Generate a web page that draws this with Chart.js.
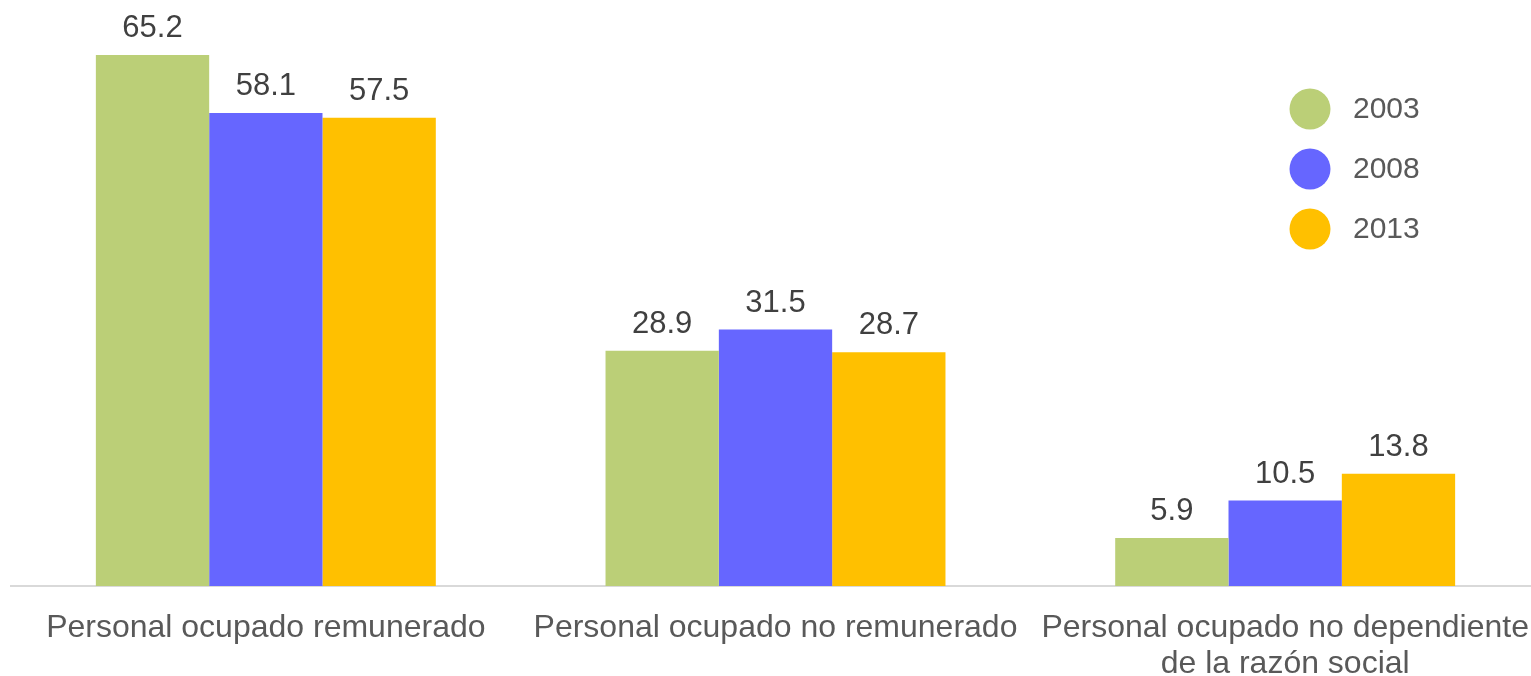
<!DOCTYPE html>
<html>
<head>
<meta charset="utf-8">
<script src="https://cdn.jsdelivr.net/npm/chart.js@4.4.1/dist/chart.umd.min.js"></script>
<style>
    html, body { margin: 0; padding: 0; background: #ffffff; overflow: hidden; }
    #wrap { width: 1540px; height: 676px; }
</style>
</head>
<body>
<div id="wrap"><canvas id="myChart"></canvas></div>
<script>
const categories = [
    'Personal ocupado remunerado',
    'Personal ocupado no remunerado',
    ['Personal ocupado no dependiente', 'de la razón social']
];
const years = ['2003', '2008', '2013'];
const values_2003 = [65.2, 28.9, 5.9];
const values_2008 = [58.1, 31.5, 10.5];
const values_2013 = [57.5, 28.7, 13.8];
const colors = ['#bbcf77', '#6666ff', '#ffc000'];

const font_family = '"Liberation Sans", Arial, sans-serif';

// value above each bar
const valueLabels = {
    id: 'valueLabels',
    afterDatasetsDraw(chart) {
        const ctx = chart.ctx;
        ctx.save();
        ctx.font = '31px ' + font_family;
        ctx.fillStyle = '#404040';
        ctx.textAlign = 'center';
        ctx.textBaseline = 'alphabetic';
        chart.data.datasets.forEach((ds, i) => {
            chart.getDatasetMeta(i).data.forEach((bar, j) => {
                ctx.fillText(ds.data[j].toFixed(1), bar.x, bar.y - 18);
            });
        });
        ctx.restore();
    }
};

// circle legend in the upper right
const circleLegend = {
    id: 'circleLegend',
    afterDraw(chart) {
        const ctx = chart.ctx;
        ctx.save();
        ctx.font = '30px ' + font_family;
        ctx.textAlign = 'left';
        ctx.textBaseline = 'middle';
        chart.data.datasets.forEach((ds, i) => {
            let y = 109 + i * 60;
            ctx.beginPath();
            ctx.arc(1310, y, 20.5, 0, Math.PI * 2);
            ctx.fillStyle = ds.backgroundColor;
            ctx.fill();
            ctx.fillStyle = '#595959';
            ctx.fillText(ds.label, 1353, y + 1);
        });
        ctx.restore();
    }
};

let datasets = [values_2003, values_2008, values_2013].map((vals, i) => ({
    label: years[i],
    data: vals,
    backgroundColor: colors[i],
    borderWidth: 0,
    barPercentage: 1.0,
    categoryPercentage: 0.667
}));

let config = {
    type: 'bar',
    data: {
        labels: categories,
        datasets: datasets
    },
    options: {
        responsive: true,
        maintainAspectRatio: false,
        animation: false,
        layout: {
            padding: { top: 16, left: 11, right: 0, bottom: 0 }
        },
        scales: {
            x: {
                grid: { display: false, drawTicks: false },
                border: { display: true, color: '#d9d9d9', width: 2 },
                ticks: {
                    color: '#595959',
                    font: { family: font_family, size: 32, lineHeight: 1.13 },
                    padding: 24,
                    maxRotation: 0,
                    autoSkip: false
                },
                afterFit: function(scale) {
                    scale.height = 90;
                    // labels may overhang the plot, keep the plot full width
                    scale.paddingLeft = 0;
                    scale.paddingRight = 0;
                }
            },
            y: {
                display: false,
                min: 0,
                max: 70
            }
        },
        plugins: {
            legend: { display: false },
            tooltip: { enabled: false }
        }
    },
    plugins: [valueLabels, circleLegend]
};

window.chart = new Chart(document.getElementById('myChart'), config);
</script>
</body>
</html>
